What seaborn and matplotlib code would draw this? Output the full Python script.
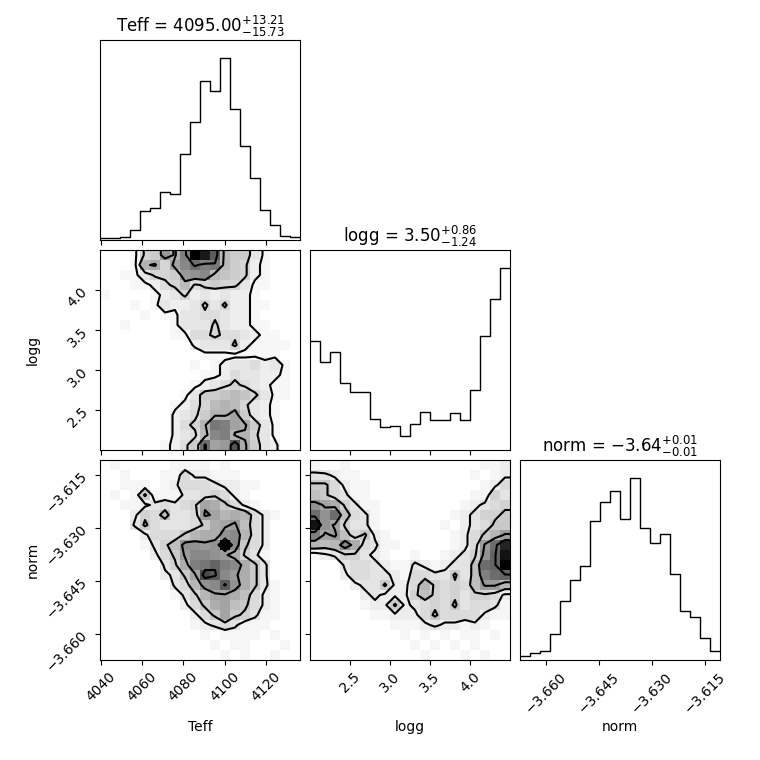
import numpy as np
import matplotlib
matplotlib.use("Agg")
import matplotlib.pyplot as plt
import seaborn as sns
from matplotlib.colors import LinearSegmentedColormap

# parameter names, plotted ranges and panel titles
labels = ["Teff", "logg", "norm"]
ranges = [(4039.7, 4136.5), (2.0, 4.5), (-3.6674, -3.6108)]
titles = [r"Teff = $4095.00_{-15.73}^{+13.21}$",
          r"logg = $3.50_{-1.24}^{+0.86}$",
          r"norm = $-3.64_{-0.01}^{+0.01}$"]
ticks = [[4040, 4060, 4080, 4100, 4120],
         [2.5, 3.0, 3.5, 4.0],
         [-3.660, -3.645, -3.630, -3.615]]
tick_labels = [["4040", "4060", "4080", "4100", "4120"],
               ["2.5", "3.0", "3.5", "4.0"],
               ["\u22123.660", "\u22123.645", "\u22123.630", "\u22123.615"]]

# 1D marginal histograms (20 bins each, relative counts)
teff_counts = [6, 6, 10, 30, 86, 96, 144, 138, 258, 351, 476, 446, 543, 392, 281, 186, 89, 45, 12, 8]
logg_counts = [327, 263, 293, 200, 173, 173, 93, 68, 72, 41, 79, 114, 89, 89, 111, 89, 179, 342, 452, 545]
norm_counts = [12, 20, 27, 77, 176, 239, 283, 418, 474, 507, 423, 545, 396, 350, 378, 259, 148, 129, 65, 27]

# 2D histograms, 20x20, first row = top of the panel
teff_logg = [
    "0 0 0 1 5 6 12 9 15 30 27 19 8 6 6 3 1 0 0 0",
    "0 0 0 1 9 10 5 11 14 17 15 16 8 6 5 2 1 0 0 0",
    "0 0 1 1 3 5 5 6 12 13 14 8 7 6 5 2 1 0 0 0",
    "0 0 0 1 1 2 4 5 8 4 5 6 5 5 3 1 1 0 0 0",
    "1 0 0 0 0 1 2 3 5 2 3 2 3 2 2 1 0 0 0 0",
    "0 0 0 1 0 1 3 2 2 3 5 3 5 2 2 1 1 0 0 0",
    "0 0 0 0 1 0 1 1 3 3 4 4 3 2 2 1 0 0 0 0",
    "0 0 1 0 0 0 0 1 3 3 3 5 3 2 2 1 1 0 0 0",
    "0 0 0 0 0 0 0 1 1 4 4 5 4 4 3 2 1 1 0 0",
    "0 0 0 0 0 0 0 0 0 2 3 3 3 5 2 1 1 1 1 0",
    "0 0 0 0 0 0 0 0 0 0 1 1 1 1 1 1 1 1 0 0",
    "0 0 0 0 0 0 0 0 0 1 0 1 2 3 3 4 2 3 1 0",
    "0 0 0 0 0 0 0 0 0 0 1 1 2 4 3 3 2 2 1 0",
    "0 0 0 0 0 0 0 0 0 1 2 3 4 5 4 3 2 1 1 0",
    "0 0 0 0 0 0 0 0 1 3 6 6 7 8 7 5 3 1 1 0",
    "0 0 0 0 0 0 0 1 2 4 5 8 9 8 5 3 2 1 0 0",
    "0 0 0 0 0 0 0 2 3 4 6 9 9 11 6 3 2 1 0 0",
    "0 0 0 0 0 0 0 2 4 5 9 16 15 11 10 6 3 1 0 0",
    "0 0 0 0 0 0 0 2 3 4 8 14 15 9 9 5 3 1 0 0",
    "0 0 0 0 0 0 1 2 4 6 17 11 12 20 10 6 3 2 0 0",
]
teff_norm = [
    "0 1 0 0 0 0 0 1 1 1 1 0 1 0 0 0 0 0 0 0",
    "0 0 1 0 0 0 1 1 4 2 2 1 1 1 0 0 0 0 0 0",
    "0 0 1 1 1 0 1 2 4 4 4 3 2 2 1 1 0 0 0 0",
    "0 1 0 1 6 1 1 1 3 3 4 5 4 2 1 0 0 0 0 0",
    "0 0 1 1 2 3 4 3 4 5 10 9 6 4 2 1 0 0 0 0",
    "0 0 0 2 5 4 7 3 3 4 11 10 8 9 8 4 2 1 0 0",
    "0 0 0 3 6 4 3 3 3 4 6 9 10 11 7 4 2 0 0 0",
    "0 0 0 0 2 4 4 4 6 8 9 9 12 13 8 4 2 0 0 0",
    "0 0 0 0 1 3 5 7 12 12 11 12 28 13 6 4 2 0 0 0",
    "0 0 0 0 0 2 4 6 11 13 13 12 11 9 5 3 1 0 0 0",
    "0 0 0 0 0 0 3 5 9 14 15 17 14 13 9 6 3 0 0 0",
    "0 0 0 0 0 0 2 3 6 10 20 18 13 11 9 6 3 0 0 0",
    "0 0 0 0 0 0 0 3 4 8 12 13 18 12 9 6 3 1 0 0",
    "0 0 0 0 0 0 0 1 3 5 8 10 10 9 7 4 2 1 0 0",
    "0 0 0 0 0 0 0 0 2 4 6 9 10 7 6 4 2 1 0 0",
    "0 0 0 0 0 0 0 0 0 2 4 6 10 6 5 3 1 1 0 0",
    "0 0 0 0 0 0 0 0 0 1 2 3 4 3 1 1 1 0 0 0",
    "0 0 0 0 0 0 0 0 0 0 1 0 1 1 1 1 0 1 0 0",
    "0 0 0 0 0 0 0 0 0 0 0 1 0 1 1 0 0 0 1 0",
    "0 0 0 0 0 0 0 0 0 0 0 0 1 0 1 0 0 1 0 0",
]
logg_norm = [
    "1 0 0 1 0 0 0 0 0 0 0 0 0 0 0 0 0 1 1 2",
    "3 3 2 1 1 0 0 0 0 0 0 0 0 0 0 0 1 0 1 2",
    "6 6 4 2 1 1 0 0 0 0 0 0 0 0 0 0 0 1 2 4",
    "7 6 4 3 1 1 0 0 0 0 0 0 0 0 0 0 1 1 5 3",
    "12 10 9 5 3 1 1 0 0 0 0 0 0 0 0 1 2 3 4 5",
    "16 12 16 7 4 3 1 0 0 0 0 0 0 0 1 2 3 5 5 6",
    "26 12 10 5 3 3 1 0 0 0 0 0 0 1 0 2 3 4 6 6",
    "14 10 11 7 4 6 2 1 0 0 0 0 0 0 1 2 4 6 8 11",
    "8 7 8 13 9 4 3 1 1 0 0 0 0 0 1 2 4 11 16 24",
    "1 2 3 5 5 3 2 1 0 0 1 0 0 1 2 3 5 12 17 26",
    "0 0 0 3 4 4 3 2 1 1 3 2 1 2 3 3 7 16 17 28",
    "0 0 0 2 4 4 3 3 2 1 4 4 3 3 6 3 7 14 16 17",
    "0 0 0 0 2 3 3 6 2 2 4 8 5 4 5 4 7 11 11 8",
    "0 0 0 0 0 2 3 2 2 2 5 7 5 4 5 3 5 5 4 2",
    "0 0 0 0 0 1 2 2 6 2 3 4 5 4 6 3 4 4 3 1",
    "0 0 0 0 0 0 1 1 2 2 2 4 6 4 4 4 4 2 1 1",
    "0 0 0 0 0 0 0 0 1 1 1 2 3 2 2 1 2 1 0 0",
    "0 0 0 0 0 0 0 0 0 1 0 1 0 1 0 1 1 0 1 0",
    "0 0 0 0 0 0 0 0 0 0 1 0 1 0 1 0 1 0 0 0",
    "0 0 0 0 0 0 0 0 0 0 0 1 0 0 0 1 0 1 0 0",
]

# contour levels (2, 1.5, 1, 0.5 sigma) on each grid's count scale
levels_teff_logg = [1.5, 4.5, 9.5, 16.5]
levels_teff_norm = [2.5, 5.5, 10.5, 17.5]
levels_logg_norm = [2.5, 5.5, 10.5, 17.5]

counts_1d = [teff_counts, logg_counts, norm_counts]
grids = {(1, 0): (teff_logg, levels_teff_logg),
         (2, 0): (teff_norm, levels_teff_norm),
         (2, 1): (logg_norm, levels_logg_norm)}

nbins = 20
density_cmap = LinearSegmentedColormap.from_list("density", ["white", "black"])


def edges(i):
    return np.linspace(ranges[i][0], ranges[i][1], nbins + 1)


def draw_hist2d(ax, rows, levels, ix, iy):
    # H[x, y] with y counted from the bottom
    H = np.array([[float(v) for v in r.split()] for r in rows])[::-1].T
    xe, ye = edges(ix), edges(iy)
    xc, yc = 0.5 * (xe[1:] + xe[:-1]), 0.5 * (ye[1:] + ye[:-1])
    XX, YY = np.meshgrid(xc, yc, indexing="ij")
    sns.histplot(x=XX.ravel(), y=YY.ravel(), weights=H.ravel(),
                 bins=[xe.tolist(), ye.tolist()],
                 cmap=density_cmap, vmin=0, ax=ax)

    # pad the grid so contours close at the panel edges
    H2 = H.min() + np.zeros((H.shape[0] + 4, H.shape[1] + 4))
    H2[2:-2, 2:-2] = H
    H2[2:-2, 1] = H[:, 0]
    H2[2:-2, -2] = H[:, -1]
    H2[1, 2:-2] = H[0]
    H2[-2, 2:-2] = H[-1]
    H2[1, 1] = H[0, 0]
    H2[1, -2] = H[0, -1]
    H2[-2, 1] = H[-1, 0]
    H2[-2, -2] = H[-1, -1]
    dx, dy = xc[1] - xc[0], yc[1] - yc[0]
    X2 = np.concatenate([xc[0] + np.array([-2, -1]) * dx, xc, xc[-1] + np.array([1, 2]) * dx])
    Y2 = np.concatenate([yc[0] + np.array([-2, -1]) * dy, yc, yc[-1] + np.array([1, 2]) * dy])
    ax.contour(X2, Y2, H2.T, levels, colors="k", linewidths=1.5)


fig = plt.figure(figsize=(7.6, 7.6), dpi=100)
lefts = [100, 310, 520]
tops = [40, 250, 460]
size = 200

for i in range(3):
    for j in range(i + 1):
        ax = fig.add_axes([lefts[j] / 760, 1 - (tops[i] + size) / 760, size / 760, size / 760])
        if i == j:
            e = edges(i)
            c = 0.5 * (e[1:] + e[:-1])
            sns.histplot(x=c, weights=counts_1d[i], bins=e.tolist(), element="step", fill=False,
                         color="k", linewidth=1.0, ax=ax)
            ax.set_ylim(0, 1.1 * max(counts_1d[i]))
            ax.set_yticks([])
            ax.set_title(titles[i], fontsize=12)
        else:
            rows, lv = grids[(i, j)]
            draw_hist2d(ax, rows, lv, j, i)
            ax.set_ylim(*ranges[i])
            ax.set_yticks(ticks[i])
            if j == 0:
                ax.set_yticklabels(tick_labels[i], rotation=45)
                ax.set_ylabel(labels[i], fontsize=10)
                ax.yaxis.set_label_coords(-0.3, 0.5)
            else:
                ax.set_yticklabels([])
                ax.set_ylabel("")
        ax.set_xlim(*ranges[j])
        ax.set_xticks(ticks[j])
        if i == 2:
            ax.set_xticklabels(tick_labels[j], rotation=45)
            ax.set_xlabel(labels[j], fontsize=10)
            ax.xaxis.set_label_coords(0.5, -0.3)
        else:
            ax.set_xticklabels([])
            ax.set_xlabel("")
        if i == j:
            ax.set_ylabel("")

fig.savefig("out.png", dpi=100)
